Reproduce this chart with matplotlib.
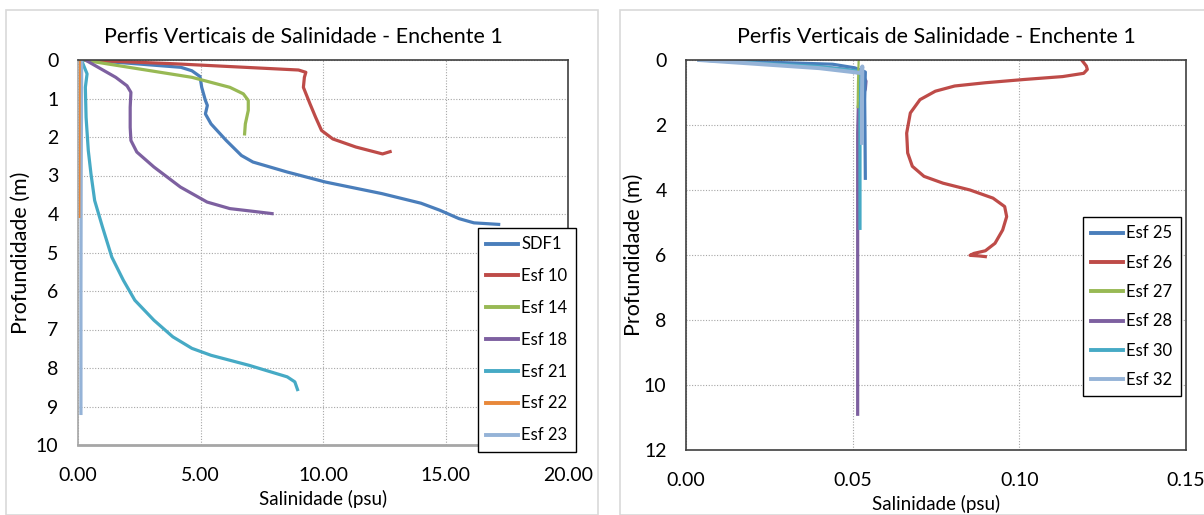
import matplotlib.pyplot as plt
from matplotlib.patches import Rectangle

plt.rcParams['font.family'] = ['Lato', 'DejaVu Sans']

# ---- left panel data (salinity psu, depth m)
sdf1_s = [0.22, 2.0, 4.2, 4.65, 4.98, 5.05, 5.2, 5.28, 5.2, 5.43, 6.05, 6.67, 7.14, 8.54, 10.1, 12.4, 14.0, 14.76, 15.55, 16.16, 17.17]
sdf1_z = [0.0, 0.08, 0.19, 0.28, 0.43, 0.71, 1.05, 1.18, 1.4, 1.66, 2.09, 2.48, 2.65, 2.91, 3.17, 3.47, 3.72, 3.9, 4.12, 4.23, 4.27]
esf10_s = [0.2, 4.0, 9.0, 9.3, 9.24, 9.2, 9.47, 9.7, 9.94, 10.4, 11.34, 12.43, 12.74]
esf10_z = [0.0, 0.1, 0.26, 0.32, 0.45, 0.71, 1.14, 1.49, 1.83, 2.05, 2.26, 2.44, 2.38]
esf14_s = [0.2, 4.65, 6.2, 6.75, 6.95, 6.95, 6.83, 6.8]
esf14_z = [0.0, 0.45, 0.71, 0.88, 1.05, 1.31, 1.66, 1.92]
esf18_s = [0.3, 1.54, 2.0, 2.16, 2.13, 2.13, 2.16, 2.4, 3.1, 4.18, 5.27, 6.2, 7.14, 7.92]
esf18_z = [0.0, 0.45, 0.67, 0.84, 1.23, 1.75, 2.09, 2.39, 2.78, 3.3, 3.69, 3.86, 3.93, 3.99]
esf21_s = [0.14, 0.37, 0.3, 0.33, 0.42, 0.53, 0.68, 1.0, 1.38, 1.85, 2.32, 3.1, 3.87, 4.65, 5.43, 6.98, 8.54, 8.85, 8.96]
esf21_z = [0.0, 0.36, 0.71, 1.49, 2.35, 2.96, 3.65, 4.34, 5.12, 5.72, 6.24, 6.76, 7.19, 7.49, 7.67, 7.93, 8.23, 8.36, 8.56]
esf22_s = [0.08, 0.07, 0.06]
esf22_z = [0.0, 2.0, 4.08]
esf23_s = [0.15, 0.13, 0.12, 0.12]
esf23_z = [0.0, 3.0, 6.0, 9.18]

# ---- right panel data
esf25_s = [0.004, 0.044, 0.0506, 0.0538, 0.0536, 0.0537, 0.0538]
esf25_z = [0.0, 0.13, 0.24, 0.37, 1.22, 2.25, 3.64]
esf26_s = [0.1187, 0.1201, 0.1204, 0.1193, 0.113, 0.1014, 0.0898, 0.0806, 0.0748, 0.0702, 0.0673, 0.0662, 0.0665,
           0.0679, 0.0714, 0.0771, 0.0852, 0.0921, 0.0956, 0.0962, 0.095, 0.0927, 0.0898, 0.0864, 0.0852, 0.088, 0.0898]
esf26_z = [0.0, 0.185, 0.29, 0.41, 0.51, 0.6, 0.7, 0.8, 0.96, 1.22, 1.63, 2.25, 2.86,
           3.27, 3.58, 3.79, 4.0, 4.25, 4.51, 4.82, 5.23, 5.64, 5.87, 5.95, 6.01, 6.03, 6.05]
esf27_s = [0.0518, 0.0516, 0.0515]
esf27_z = [0.0, 0.7, 1.45]
esf28_s = [0.004, 0.032, 0.0483, 0.0529, 0.054, 0.0538, 0.0517, 0.0515, 0.0515, 0.0515]
esf28_z = [0.0, 0.13, 0.29, 0.44, 0.65, 0.9, 1.42, 2.25, 6.37, 10.9]
esf30_s = [0.004, 0.04, 0.0517, 0.0522, 0.0522, 0.0522]
esf30_z = [0.0, 0.2, 0.34, 0.5, 3.0, 5.18]
esf32_s = [0.004, 0.04, 0.0525, 0.0529, 0.0528, 0.0528]
esf32_z = [0.0, 0.25, 0.4, 0.2, 1.2, 2.55]

c_blue = '#4a7ebb'
c_red = '#be4b48'
c_green = '#98b954'
c_purple = '#7d60a0'
c_cyan = '#46aac5'
c_orange = '#e8883a'
c_lblue = '#95b3d7'

fig = plt.figure(figsize=(12.04, 5.15), dpi=100)

# outer chart frames
fig.patches.append(Rectangle((6/1204, 0.0), 592/1204, 1 - 10/515, transform=fig.transFigure,
                             fill=False, edgecolor='#d9d9d9', lw=1.2))
fig.patches.append(Rectangle((620/1204, 0.0), 600/1204, 1 - 10/515, transform=fig.transFigure,
                             fill=False, edgecolor='#d9d9d9', lw=1.2))

ax1 = fig.add_axes([78/1204, 1 - 445/515, 490/1204, 385/515])
ax2 = fig.add_axes([686/1204, 1 - 450/515, 500/1204, 390/515])

lw = 2.3
ax1.plot(sdf1_s, sdf1_z, color=c_blue, lw=lw, label='SDF1')
ax1.plot(esf10_s, esf10_z, color=c_red, lw=lw, label='Esf 10')
ax1.plot(esf14_s, esf14_z, color=c_green, lw=lw, label='Esf 14')
ax1.plot(esf18_s, esf18_z, color=c_purple, lw=lw, label='Esf 18')
ax1.plot(esf21_s, esf21_z, color=c_cyan, lw=lw, label='Esf 21')
ax1.plot(esf23_s, esf23_z, color=c_lblue, lw=lw, label='Esf 23')
ax1.plot(esf22_s, esf22_z, color=c_orange, lw=1.3, label='Esf 22')

ax2.plot(esf26_s, esf26_z, color=c_red, lw=lw, label='Esf 26')
ax2.plot(esf28_s, esf28_z, color=c_purple, lw=lw, label='Esf 28')
ax2.plot(esf25_s, esf25_z, color=c_blue, lw=lw, label='Esf 25')
ax2.plot(esf30_s, esf30_z, color=c_cyan, lw=lw, label='Esf 30')
ax2.plot(esf27_s, esf27_z, color=c_green, lw=1.6, label='Esf 27')
ax2.plot(esf32_s, esf32_z, color=c_lblue, lw=lw + 0.6, label='Esf 32')

ax1.set_xlim(0, 20)
ax1.set_ylim(10, 0)
ax1.set_xticks([0, 5, 10, 15, 20])
ax1.set_xticklabels(['0.00', '5.00', '10.00', '15.00', '20.00'])
ax1.set_yticks(range(0, 11))

ax2.set_xlim(0, 0.15)
ax2.set_ylim(12, 0)
ax2.set_xticks([0, 0.05, 0.10, 0.15])
ax2.set_xticklabels(['0.00', '0.05', '0.10', '0.15'])
ax2.set_yticks(range(0, 13, 2))

for ax in (ax1, ax2):
    ax.grid(True, color='#a6a6a6', linestyle=(0, (1, 1.5)), lw=0.8)
    ax.set_axisbelow(True)
    ax.tick_params(axis='y', length=0, labelsize=14, pad=14)
    ax.tick_params(axis='x', length=0, labelsize=14, pad=16)
    ax.set_title('Perfis Verticais de Salinidade - Enchente 1', fontsize=15.5, pad=12)
    ax.set_xlabel('Salinidade (psu)', fontsize=13.5, labelpad=4)
    ax.set_ylabel('Profundidade (m)', fontsize=15.5)
    for s in ax.spines.values():
        s.set_color('#404040')
        s.set_linewidth(1.2)

ax1.yaxis.set_label_coords(-0.096, 0.5)
ax2.yaxis.set_label_coords(-0.084, 0.5)
ax1.title.set_x(0.46)
ax1.spines['bottom'].set_color('#a6a6a6')
ax1.spines['bottom'].set_linewidth(2)
ax1.spines['left'].set_color('#a6a6a6')

leg_kw = dict(loc='upper left', bbox_transform=fig.transFigure, borderaxespad=0,
              fontsize=12, handlelength=1.9, handletextpad=0.2,
              borderpad=0.5, fancybox=False, framealpha=1, edgecolor='black')

order1 = ['SDF1', 'Esf 10', 'Esf 14', 'Esf 18', 'Esf 21', 'Esf 22', 'Esf 23']
h1, l1 = ax1.get_legend_handles_labels()
d1 = dict(zip(l1, h1))
leg1 = ax1.legend([d1[k] for k in order1], order1, bbox_to_anchor=(478/1204, 1 - 228/515),
                  labelspacing=0.95, **leg_kw)

order2 = ['Esf 25', 'Esf 26', 'Esf 27', 'Esf 28', 'Esf 30', 'Esf 32']
h2, l2 = ax2.get_legend_handles_labels()
d2 = dict(zip(l2, h2))
leg2 = ax2.legend([d2[k] for k in order2], order2, bbox_to_anchor=(1083/1204, 1 - 217/515),
                  labelspacing=0.8, **leg_kw)

for leg in (leg1, leg2):
    leg.get_frame().set_linewidth(1.0)
    for ln in leg.get_lines():
        ln.set_linewidth(2.8)

fig.savefig('out.png', dpi=100)
